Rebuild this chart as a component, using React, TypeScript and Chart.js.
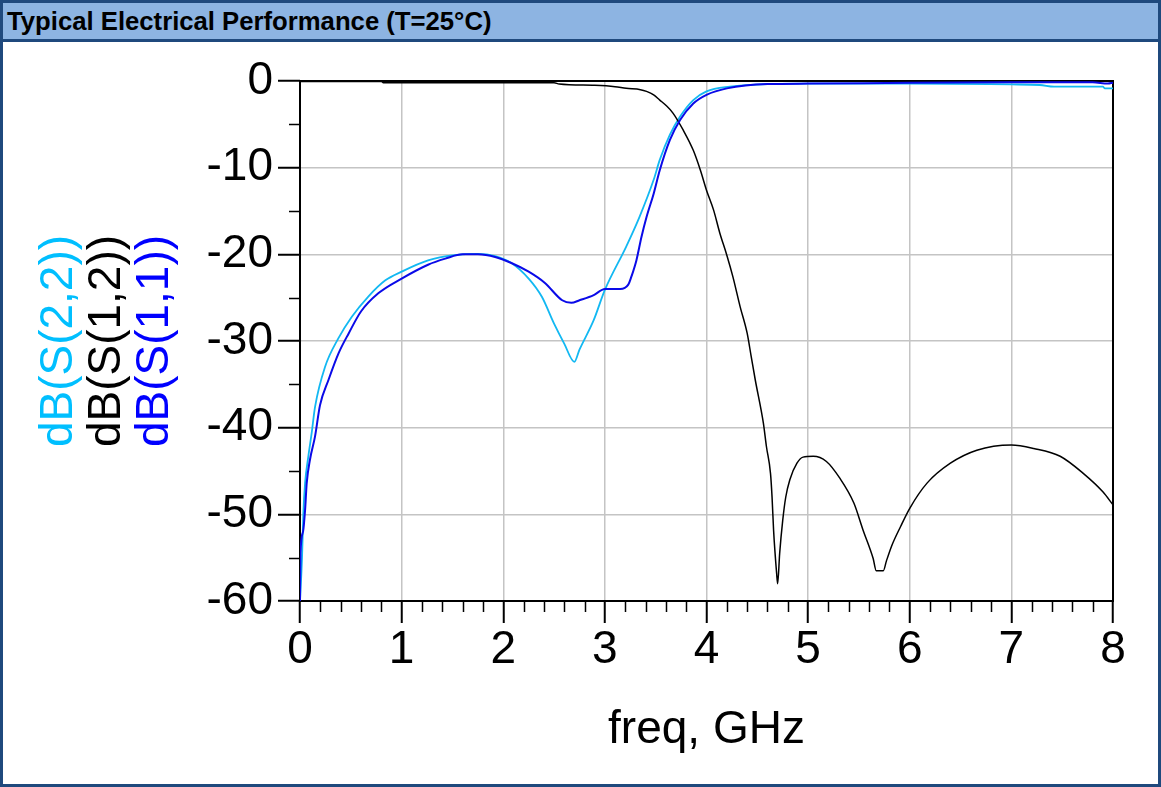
import React, { useEffect, useRef } from 'react';
import { Chart, registerables } from 'chart.js';

Chart.register(...registerables);

const TITLE = 'Typical Electrical Performance (T=25°C)';
const X_TITLE = 'freq, GHz';
const Y_TITLES = ['dB(S(2,2))', 'dB(S(1,2))', 'dB(S(1,1))'];
const Y_TITLE_COLORS = ['#00bfff', '#000000', '#0000ff'];

const X_TICK_LABELS = ['0', '1', '2', '3', '4', '5', '6', '7', '8'];
const Y_TICK_LABELS = ['-60', '-50', '-40', '-30', '-20', '-10', '0'];
const X_MINOR = [
  0.2, 0.4, 0.6, 0.8, 1.2, 1.4, 1.6, 1.8, 2.2, 2.4, 2.6, 2.8, 3.2, 3.4, 3.6, 3.8,
  4.2, 4.4, 4.6, 4.8, 5.2, 5.4, 5.6, 5.8, 6.2, 6.4, 6.6, 6.8, 7.2, 7.4, 7.6, 7.8,
];
const Y_MINOR = [-5, -15, -25, -35, -45, -55];

// dB(S(1,1)) – blue
const FREQ_S11 = [
  0, 0.005, 0.03, 0.05, 0.066, 0.098, 0.148, 0.197, 0.28, 0.38, 0.48, 0.6, 0.77, 1.0,
  1.26, 1.43, 1.6, 1.75, 1.92, 2.08, 2.25, 2.41, 2.58, 2.67, 2.75, 2.89, 3.0, 3.15,
  3.23, 3.26, 3.31, 3.36, 3.41, 3.48, 3.54, 3.64, 3.74, 3.87, 4.0, 4.2, 4.6, 5.0, 6.0, 7.0, 7.8, 7.95, 8.0,
];
const S11 = [
  -60, -54.5, -52, -49.5, -46.4, -43.7, -41, -37.4, -34.5, -31.4, -29.1, -26.6, -24.5, -22.8,
  -21.2, -20.5, -20.0, -20.0, -20.3, -21.0, -22.0, -23.3, -25.3, -25.6, -25.3, -24.7, -24.0, -24.0,
  -23.5, -22.6, -20.7, -18.0, -15.7, -13.0, -10.3, -6.8, -4.5, -2.6, -1.6, -0.85, -0.35, -0.3, -0.2, -0.15, -0.15, -0.3, -0.2,
];

// dB(S(2,2)) – cyan
const FREQ_S22 = [
  0, 0.02, 0.033, 0.05, 0.082, 0.115, 0.148, 0.246, 0.377, 0.51, 0.67, 0.84, 1.0, 1.26,
  1.52, 1.75, 1.92, 2.08, 2.25, 2.38, 2.5, 2.6, 2.7, 2.75, 2.89, 3.0, 3.21, 3.34, 3.48,
  3.54, 3.64, 3.74, 3.87, 4.0, 4.23, 4.6, 5.0, 6.0, 7.0, 7.28, 7.42, 7.9, 7.92, 8.0,
];
const S22 = [
  -60, -55, -49.9, -46.4, -43.3, -40.6, -37.6, -33.0, -29.7, -27.2, -24.9, -23.0, -22.0, -20.7,
  -20.1, -19.95, -20.2, -21.0, -22.8, -24.9, -28.0, -30.3, -32.4, -31.0, -27.6, -24.1, -19.1, -15.7, -11.4,
  -9.1, -6.2, -4.1, -2.2, -1.2, -0.65, -0.35, -0.3, -0.3, -0.4, -0.46, -0.65, -0.65, -0.85, -0.85,
];

// dB(S(1,2)) – black
const FREQ_S12 = [
  0, 0.8, 0.82, 2.5, 2.55, 2.9, 3.1, 3.21, 3.35, 3.41, 3.48, 3.54, 3.6, 3.67, 3.77, 3.87,
  3.94, 4.0, 4.07, 4.13, 4.2, 4.26, 4.33, 4.4, 4.44, 4.48, 4.56, 4.59, 4.63, 4.645, 4.66, 4.69, 4.70, 4.72, 4.75,
  4.78, 4.82, 4.89, 4.95, 5.05, 5.18, 5.31, 5.45, 5.54, 5.64, 5.67, 5.74, 5.77, 5.82, 5.91,
  6.0, 6.17, 6.4, 6.66, 7.0, 7.22, 7.48, 7.71, 7.9, 8.0,
];
const S12 = [
  -0.05, -0.05, -0.2, -0.2, -0.35, -0.5, -0.65, -0.85, -1.0, -1.2, -1.6, -2.2, -2.8, -3.7, -5.65, -8.0,
  -10.3, -12.6, -14.9, -17.5, -20.1, -22.6, -26.0, -29.1, -31.8, -34.5, -39.5, -42.2, -45.3, -48.0, -51.8, -56.8, -58.0, -54.5, -50.7,
  -48.0, -46.0, -44.1, -43.4, -43.3, -43.9, -45.8, -48.7, -51.8, -55.1, -56.5, -56.5, -55.4, -53.7, -51.4,
  -49.3, -46.4, -44.1, -42.6, -42.0, -42.4, -43.3, -45.3, -47.4, -48.9,
];

const FONT = "'Liberation Sans', Arial, sans-serif";

function pts(xs: number[], ys: number[]) {
  return xs.map((x, i) => ({ x, y: ys[i] }));
}

const decor = {
  id: 'decor',
  beforeDatasetsDraw(chart: any) {
    const { ctx, chartArea: a, scales } = chart;
    const x = scales.x;
    const y = scales.y;
    ctx.save();
    ctx.strokeStyle = '#000';
    ctx.lineWidth = 2;
    ctx.strokeRect(a.left, a.top, a.right - a.left, a.bottom - a.top);
    ctx.lineWidth = 1.5;
    ctx.beginPath();
    for (const v of X_MINOR) {
      const px = Math.round(x.getPixelForValue(v)) + 0.5;
      ctx.moveTo(px, a.bottom);
      ctx.lineTo(px, a.bottom + 11);
    }
    for (const v of Y_MINOR) {
      const py = Math.round(y.getPixelForValue(v)) + 0.5;
      ctx.moveTo(a.left - 11, py);
      ctx.lineTo(a.left, py);
    }
    ctx.stroke();
    ctx.restore();
  },
  afterDraw(chart: any) {
    const { ctx, chartArea: a } = chart;
    ctx.save();
    ctx.font = `46px ${FONT}`;
    ctx.fillStyle = '#000';
    ctx.textAlign = 'center';
    ctx.textBaseline = 'alphabetic';
    ctx.fillText(X_TITLE, (a.left + a.right) / 2, 743);
    const cy = (a.top + a.bottom) / 2;
    const bases = [72, 120, 168];
    Y_TITLES.forEach((t, i) => {
      ctx.save();
      ctx.translate(bases[i], cy);
      ctx.rotate(-Math.PI / 2);
      ctx.fillStyle = Y_TITLE_COLORS[i];
      ctx.fillText(t, 0, 0);
      ctx.restore();
    });
    ctx.restore();
  },
};

export default function App() {
  const ref = useRef<HTMLCanvasElement | null>(null);

  useEffect(() => {
    const canvas = ref.current;
    if (!canvas) return;
    const chart = new Chart(canvas, {
      type: 'line',
      data: {
        datasets: [
          {
            label: 'dB(S(1,1))',
            data: pts(FREQ_S11, S11),
            borderColor: '#0a0ae8',
            borderWidth: 2,
            pointRadius: 0,
            cubicInterpolationMode: 'monotone',
            order: 0,
          },
          {
            label: 'dB(S(1,2))',
            data: pts(FREQ_S12, S12),
            borderColor: '#000000',
            borderWidth: 1.5,
            pointRadius: 0,
            cubicInterpolationMode: 'monotone',
            order: 1,
          },
          {
            label: 'dB(S(2,2))',
            data: pts(FREQ_S22, S22),
            borderColor: '#12b8f2',
            borderWidth: 1.8,
            pointRadius: 0,
            cubicInterpolationMode: 'monotone',
            order: 2,
          },
        ],
      },
      options: {
        animation: false,
        responsive: false,
        events: [],
        layout: { padding: { top: 81, right: 48, bottom: 0, left: 0 } },
        plugins: { legend: { display: false }, tooltip: { enabled: false }, title: { display: false } },
        scales: {
          x: {
            type: 'linear',
            min: 0,
            max: 8,
            afterFit: (s: any) => {
              s.height = 186;
            },
            border: { display: false },
            grid: { color: '#c4c4c4', lineWidth: 1.5, tickColor: '#000', tickLength: 22, tickWidth: 2 },
            ticks: {
              stepSize: 1,
              autoSkip: false,
              maxRotation: 0,
              padding: 4,
              color: '#000',
              font: { family: FONT, size: 46, lineHeight: 1 },
              callback: (_v: any, i: number) => X_TICK_LABELS[i],
            },
          },
          y: {
            type: 'linear',
            min: -60,
            max: 0,
            afterFit: (s: any) => {
              s.width = 300;
            },
            border: { display: false },
            grid: { color: '#c4c4c4', lineWidth: 1.5, tickColor: '#000', tickLength: 22, tickWidth: 2 },
            ticks: {
              stepSize: 10,
              autoSkip: false,
              padding: 5,
              color: '#000',
              font: { family: FONT, size: 46, lineHeight: 1 },
              callback: (_v: any, i: number) => Y_TICK_LABELS[i],
            },
          },
        },
      },
      plugins: [decor],
    } as any);
    return () => chart.destroy();
  }, []);

  return (
    <div
      style={{
        position: 'absolute',
        left: 0,
        top: 0,
        width: 1161,
        height: 787,
        background: '#ffffff',
        overflow: 'hidden',
      }}
    >
      <canvas ref={ref} width={1161} height={787} style={{ position: 'absolute', left: 0, top: 0, width: 1161, height: 787 }} />
      <div
        style={{
          position: 'absolute',
          left: 0,
          top: 3,
          width: 1161,
          height: 39,
          boxSizing: 'border-box',
          background: '#8db4e2',
          borderBottom: '3px solid #1f497d',
          font: `bold 25.7px ${FONT}`,
          lineHeight: '36px',
          paddingLeft: 7,
          color: '#000',
          whiteSpace: 'nowrap',
        }}
      >
        {TITLE}
      </div>
      <div
        style={{
          position: 'absolute',
          left: 0,
          top: 0,
          width: 1161,
          height: 787,
          boxSizing: 'border-box',
          border: '3px solid #1f497d',
          pointerEvents: 'none',
        }}
      />
    </div>
  );
}
